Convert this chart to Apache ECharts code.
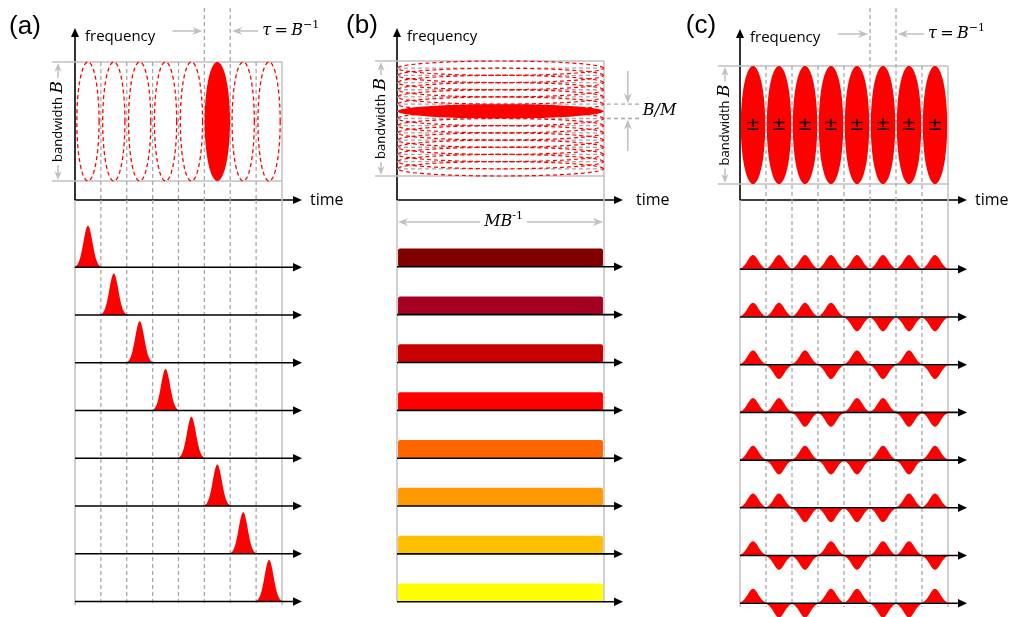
<!DOCTYPE html>
<html><head><meta charset="utf-8">
<script src="https://cdn.jsdelivr.net/npm/echarts@6/dist/echarts.min.js"></script>
<style>html,body{margin:0;padding:0;background:#fff}#c{width:1011px;height:617px}</style>
</head><body><div id="c"></div>
<script>
// ---------------- data ----------------
const panelLabels = ['(a)', '(b)', '(c)'];
const slotCount = 8;                         // M = 8 time slots of width tau = 1/B
const slotBoundaries = [1, 2, 3, 4, 5, 6, 7];
const tauMarks = [5, 6];                     // the two boundaries marked tau = B^-1
const rowIndex = [0, 1, 2, 3, 4, 5, 6, 7];   // 8 basis modes per panel
// (a) time-bin modes
const aEllipseSlots = [0, 1, 2, 3, 4, 5, 6, 7];
const aFilledSlot = 5;
const aPulseSlotByRow = [0, 1, 2, 3, 4, 5, 6, 7];
// (b) frequency-bin modes
const bEllipseSteps = [0, 1, 2, 3, 4, 5, 6, 7, 8, 9, 10, 11, 12, 13, 14]; // offsets in units of B/(2M)
const bFilledStep = 6;
const bModeColors = ['#800000', '#a50021', '#c80000', '#ff0000', '#ff6600', '#ff9900', '#ffc000', '#ffff00'];
// (c) Hadamard modes
const cEllipseSlots = [0, 1, 2, 3, 4, 5, 6, 7];
const cSignsByRow = [
  [1, 1, 1, 1, 1, 1, 1, 1],
  [1, 1, 1, 1, -1, -1, -1, -1],
  [1, -1, 1, -1, 1, -1, 1, -1],
  [1, 1, -1, -1, 1, 1, -1, -1],
  [1, -1, 1, -1, -1, 1, -1, 1],
  [1, 1, -1, -1, -1, -1, 1, 1],
  [1, -1, -1, 1, -1, 1, 1, -1],
  [1, -1, -1, 1, 1, -1, -1, 1]
];

// ---------------- layout (pixels) ----------------
const LAYOUT = [
  {x0: 75,  xr: 282, tip: 302, axTop: 28, bt: 62, bb: 181, bwX: 58,  lineL: 52,  r0: 267.3, rs: 47.75, timeGap: 8,  lab: [25, 27]},
  {x0: 397, xr: 604, tip: 623, axTop: 28, bt: 61, bb: 176, bwX: 381, lineL: 375, r0: 266.8, rs: 47.85, timeGap: 13, lab: [362, 26]},
  {x0: 740, xr: 948, tip: 967, axTop: 29, bt: 66, bb: 184, bwX: 725, lineL: 718, r0: 269.3, rs: 47.7,  timeGap: 8,  lab: [701, 26]}
];
const AXIS_Y = 200, ROWS_TOP = 200, ROWS_BOTTOM = 612, HEAD = 4.5;
const GRAY = '#c0c0c0', DASH = '#a8a8a8', RED = '#ff0000';
const SANS = 'Open Sans', SERIF = 'DejaVu Serif';
const mathRich = {
  i: {fontFamily: SERIF, fontStyle: 'italic', fontSize: 16, fill: '#000'},
  n: {fontFamily: SERIF, fontSize: 16, fill: '#000'},
  s: {fontFamily: SERIF, fontSize: 11, fill: '#000', padding: [0, 0, 11, 0]}
};

// ---------------- helpers ----------------
function seg(x1, y1, x2, y2, color, w, dash) {
  const style = {stroke: color, lineWidth: w || 1.3};
  if (dash) style.lineDash = dash;
  return {type: 'line', shape: {x1, y1, x2, y2}, style};
}
function head(x, y, dx, dy, len, hw, color, notch) {
  const bx = x - dx * len, by = y - dy * len, nx = -dy, ny = dx;
  const pts = [[x, y], [bx + nx * hw, by + ny * hw]];
  if (notch) pts.push([x - dx * len * (1 - notch), y - dy * len * (1 - notch)]);
  pts.push([bx - nx * hw, by - ny * hw]);
  return {type: 'polygon', shape: {points: pts}, style: {fill: color}};
}
function ellipsePts(api, cx, cy, rx, ry) {
  const pts = [];
  for (let k = 0; k < 120; k++) {
    const a = 2 * Math.PI * k / 120;
    pts.push(api.coord([cx + rx * Math.cos(a), cy + ry * Math.sin(a)]));
  }
  return pts;
}
function custom(gridIdx, z, data, renderItem) {
  return {type: 'custom', xAxisIndex: gridIdx, yAxisIndex: gridIdx, z, silent: true,
    clip: false, animation: false, data, renderItem};
}
function pulseRenderer(sigma, amp, half) {
  return (params, api) => {
    const c = api.value(0) + 0.5, r = api.value(1), s = api.value(2);
    const pts = [];
    for (let k = 0; k <= 60; k++) {
      const x = c - half + 2 * half * k / 60;
      pts.push(api.coord([x, r - s * amp * Math.exp(-0.5 * Math.pow((x - c) / sigma, 2))]));
    }
    return {type: 'polygon', shape: {points: pts}, style: {fill: RED}};
  };
}

const grids = [], xAxes = [], yAxes = [], series = [];

LAYOUT.forEach((g, p) => {
  const slotPx = (g.xr - g.x0) / slotCount;
  const fPx = g.bb - g.bt;
  const fMin = -(AXIS_Y - g.bb) / fPx;
  const xMaxTop = (g.tip - HEAD - g.x0) / slotPx;
  const xMaxBot = (g.tip - g.x0) / slotPx;
  const lastRow = rowIndex[rowIndex.length - 1];

  // ---------- top grid: time-frequency plane ----------
  const T = grids.length;
  grids.push({left: g.x0, top: g.axTop + HEAD, width: g.tip - HEAD - g.x0, height: AXIS_Y - g.axTop - HEAD,
    outerBoundsMode: 'none', containLabel: false});
  xAxes.push({gridIndex: T, type: 'value', min: 0, max: xMaxTop,
    axisLine: {show: true, onZero: false, symbol: ['none', 'triangle'], symbolSize: [8, 9], lineStyle: {color: '#000', width: 1.6}},
    axisTick: {show: false}, axisLabel: {show: false}, splitLine: {show: false},
    name: 'time', nameLocation: 'end', nameGap: g.timeGap + HEAD,
    nameTextStyle: {fontFamily: SANS, fontSize: 16, color: '#000', verticalAlign: 'middle'}});
  yAxes.push({gridIndex: T, type: 'value', min: fMin, max: 1 + (g.bt - g.axTop - HEAD) / fPx,
    axisLine: {show: true, onZero: false, symbol: ['none', 'triangle'], symbolSize: [8, 9], lineStyle: {color: '#000', width: 1.6}},
    axisTick: {show: false}, axisLabel: {show: false}, splitLine: {show: false},
    name: 'frequency', nameLocation: 'end', nameGap: -4,
    nameTextStyle: {fontFamily: SANS, fontSize: 15, color: '#000', align: 'left', verticalAlign: 'middle', padding: [0, 0, 0, 10]}});

  // frame + bandwidth arrow
  series.push(custom(T, 1, [[0, slotCount]], (params, api) => {
    const tR = api.value(1);
    const pTL = api.coord([0, 1]), pBR = api.coord([tR, 0]);
    const yAx = api.coord([0, fMin])[1];
    const mid = (pTL[1] + pBR[1]) / 2;
    return {type: 'group', children: [
      seg(g.lineL, pTL[1], pBR[0], pTL[1], GRAY, 1.5),
      seg(g.lineL, pBR[1], pBR[0], pBR[1], GRAY, 1.5),
      seg(pBR[0], pTL[1], pBR[0], yAx, GRAY, 1.5),
      seg(g.bwX, pTL[1] + 6, g.bwX, pBR[1] - 6, GRAY, 1.5),
      head(g.bwX, pTL[1] + 1, 0, -1, 9, 3.6, GRAY, 0.3),
      head(g.bwX, pBR[1] - 1, 0, 1, 9, 3.6, GRAY, 0.3),
      {type: 'text', x: g.bwX, y: mid, rotation: Math.PI / 2,
        style: {text: 'bandwidth {b|B}', fontFamily: SANS, fontSize: 13, fill: '#000',
          rich: {b: {fontFamily: SERIF, fontStyle: 'italic', fontSize: 17, fill: '#000'}},
          align: 'center', verticalAlign: 'middle', backgroundColor: '#fff', padding: [0, 3]}}
    ]};
  }));

  if (p === 0 || p === 2) {
    // dashed slot boundaries (top part)
    series.push(custom(T, 1, slotBoundaries.map(v => [v]), (params, api) => {
      const t = api.value(0);
      const x = api.coord([t, 0])[0];
      const yTop = tauMarks.indexOf(t) >= 0 ? 8 : api.coord([t, 1])[1];
      return seg(x, yTop, x, api.coord([t, fMin])[1], DASH, 1.3, [4, 3]);
    }));
    // tau annotation
    series.push(custom(T, 3, [tauMarks], (params, api) => {
      const xa = api.coord([api.value(0), 0])[0], xb = api.coord([api.value(1), 0])[0];
      const y = g.axTop + (p === 0 ? 3 : 5);
      return {type: 'group', children: [
        seg(xa - 32, y, xa - 6, y, GRAY, 1.5), head(xa - 2, y, 1, 0, 10, 4, GRAY, 0.3),
        seg(xb + 6, y, xb + 28, y, GRAY, 1.5), head(xb + 2, y, -1, 0, 10, 4, GRAY, 0.3),
        {type: 'text', x: xb + 32, y: y, style: {text: '{i|τ} {n|=} {i|B}{s|−1}', rich: mathRich,
          align: 'left', verticalAlign: 'middle'}}
      ]};
    }));
  }

  if (p === 0) {
    series.push(custom(T, 2, aEllipseSlots.map(s => [s, s === aFilledSlot ? 1 : 0]), (params, api) => {
      const c = api.value(0) + 0.5, filled = api.value(1) === 1;
      const pts = ellipsePts(api, c, 0.5, filled ? 0.49 : 0.43, 0.5);
      return {type: 'polygon', shape: {points: pts},
        style: filled ? {fill: RED} : {fill: 'none', stroke: RED, lineWidth: 1.3, lineDash: [4, 3]}};
    }));
  }
  if (p === 2) {
    series.push(custom(T, 2, cEllipseSlots.map(s => [s]), (params, api) => {
      const c = api.value(0) + 0.5;
      const ctr = api.coord([c, 0.5]);
      return {type: 'group', children: [
        {type: 'polygon', shape: {points: ellipsePts(api, c, 0.5, 0.47, 0.5)}, style: {fill: RED}},
        {type: 'text', x: ctr[0], y: ctr[1], style: {text: '±', fontFamily: 'DejaVu Sans', fontSize: 18, fill: '#000',
          align: 'center', verticalAlign: 'middle'}}
      ]};
    }));
  }
  if (p === 1) {
    const M2 = 2 * slotCount;
    const upperK = M2 - bFilledStep, lowerK = M2 - bFilledStep - 2;
    // dashed frequency lines
    const kList = [];
    for (let k = 1; k < M2; k++) kList.push([k]);
    series.push(custom(T, 1, kList, (params, api) => {
      const k = api.value(0);
      const ext = (k === upperK || k === lowerK) ? (640 - g.x0) / slotPx : slotCount;
      const a = api.coord([0, k / M2]), b = api.coord([ext, k / M2]);
      return seg(a[0], a[1], b[0], b[1], DASH, 1.3, [4, 3]);
    }));
    series.push(custom(T, 2, bEllipseSteps.map(j => [j, j === bFilledStep ? 1 : 0]), (params, api) => {
      const j = api.value(0), filled = api.value(1) === 1;
      const pts = ellipsePts(api, slotCount / 2, 1 - (j + 1) / M2, slotCount / 2 - 0.02, 1 / M2);
      return {type: 'polygon', shape: {points: pts},
        style: filled ? {fill: RED} : {fill: 'none', stroke: RED, lineWidth: 1.2, lineDash: [4, 3]}};
    }));
    // B/M annotation
    series.push(custom(T, 3, [[upperK, lowerK]], (params, api) => {
      const x = g.x0 + 8.92 * slotPx;
      const yU = api.coord([0, api.value(0) / M2])[1], yL = api.coord([0, api.value(1) / M2])[1];
      return {type: 'group', children: [
        seg(x, 71, x, yU - 8, GRAY, 1.5), head(x, yU - 1, 0, 1, 10, 4, GRAY, 0.3),
        seg(x, 151, x, yL + 8, GRAY, 1.5), head(x, yL + 1, 0, -1, 10, 4, GRAY, 0.3),
        {type: 'text', x: x + 15, y: (yU + yL) / 2, style: {text: 'B/M', fontFamily: SERIF, fontStyle: 'italic',
          fontSize: 16, fill: '#000', align: 'left', verticalAlign: 'middle'}}
      ]};
    }));
  }

  // ---------- bottom grid: modes as waveforms ----------
  const B = grids.length;
  grids.push({left: g.x0, top: ROWS_TOP, width: g.tip - g.x0, height: ROWS_BOTTOM - ROWS_TOP,
    outerBoundsMode: 'none', containLabel: false});
  xAxes.push({gridIndex: B, type: 'value', min: 0, max: xMaxBot, show: false});
  yAxes.push({gridIndex: B, type: 'value', inverse: true,
    min: -(g.r0 - ROWS_TOP) / g.rs, max: (ROWS_BOTTOM - g.r0) / g.rs, show: false});

  const vLines = (p === 1) ? [0, slotCount] : [0].concat(slotBoundaries, [slotCount]);
  series.push(custom(B, 1, vLines.map(v => [v]), (params, api) => {
    const t = api.value(0);
    const inner = t > 0 && t < slotCount;
    const x = api.coord([t, 0])[0];
    const y2 = api.coord([t, lastRow + (p === 1 ? 0 : 0.08)])[1];
    return inner ? seg(x, ROWS_TOP, x, y2, DASH, 1.3, [4, 3]) : seg(x, ROWS_TOP, x, y2, GRAY, 1.5);
  }));

  if (p === 0) {
    series.push(custom(B, 2, rowIndex.map(r => [aPulseSlotByRow[r], r, 1]), pulseRenderer(0.175, 0.87, 0.66)));
  }
  if (p === 2) {
    const data = [];
    rowIndex.forEach(r => cSignsByRow[r].forEach((s, k) => data.push([k, r, s])));
    series.push(custom(B, 2, data, pulseRenderer(0.205, 0.3, 0.52)));
  }
  if (p === 1) {
    const barH = 0.38;
    series.push(custom(B, 2, rowIndex.map(r => [r]), (params, api) => {
      const r = api.value(0);
      const a = api.coord([0.04, r - barH]), b = api.coord([slotCount - 0.04, r]);
      return {type: 'rect', shape: {x: a[0], y: a[1], width: b[0] - a[0], height: b[1] - a[1], r: 2},
        style: {fill: bModeColors[r]}};
    }));
    // M B^-1 annotation
    series.push(custom(B, 3, [[0, slotCount]], (params, api) => {
      const y = 222;
      const xa = api.coord([api.value(0), 0])[0] + 1, xb = api.coord([api.value(1), 0])[0] - 1;
      const xm = api.coord([(api.value(0) + api.value(1)) / 2 + 0.12, 0])[0];
      return {type: 'group', children: [
        seg(xa + 6, y, xb - 6, y, GRAY, 1.5),
        head(xa, y, -1, 0, 10, 4, GRAY, 0.3), head(xb, y, 1, 0, 10, 4, GRAY, 0.3),
        {type: 'text', x: xm, y: y, style: {text: '{i|MB}{s|-1}', rich: mathRich, align: 'center',
          verticalAlign: 'middle', backgroundColor: '#fff', padding: [0, 4]}}
      ]};
    }));
  }
  // baselines with arrow heads
  series.push(custom(B, 4, rowIndex.map(r => [r]), (params, api) => {
    const r = api.value(0);
    const a = api.coord([0, r]), b = api.coord([xMaxBot, r]);
    return {type: 'group', children: [
      seg(a[0], a[1], b[0] - 7, b[1], '#000', 1.6),
      head(b[0], b[1], 1, 0, 9, 4.2, '#000')
    ]};
  }));
});

const chart = echarts.init(document.getElementById('c'), null, {renderer: 'canvas'});
chart.setOption({
  animation: false,
  backgroundColor: '#fff',
  grid: grids, xAxis: xAxes, yAxis: yAxes, series,
  graphic: LAYOUT.map((g, i) => ({type: 'text', x: g.lab[0], y: g.lab[1], silent: true,
    style: {text: panelLabels[i], fontFamily: 'Liberation Sans', fontSize: 26, fill: '#000',
      align: 'center', verticalAlign: 'middle'}}))
});
</script></body></html>
